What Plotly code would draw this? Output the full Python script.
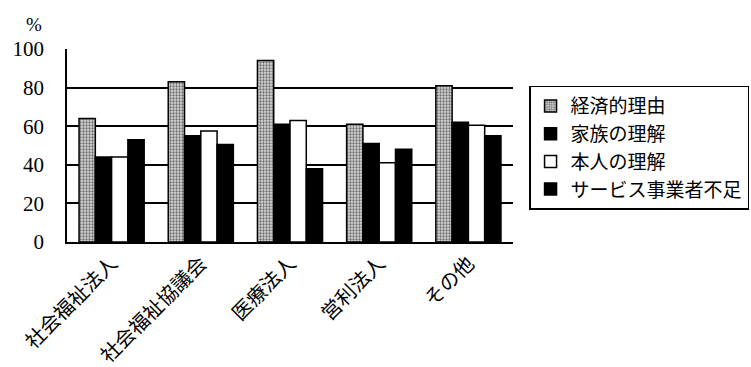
import plotly.graph_objects as go

categories = ["社会福祉法人", "社会福祉協議会", "医療法人", "営利法人", "その他"]
series_names = ["経済的理由", "家族の理解", "本人の理解", "サービス事業者不足"]
keizai = [64, 83, 94, 61, 81]
kazoku = [44, 55, 61, 51, 62]
honnin = [44, 57.5, 63, 41, 60.5]
service = [53, 50.5, 38, 48, 55]
y_ticks = [0, 20, 40, 60, 80, 100]

jp_font = "Noto Sans CJK JP"
num_font = "Liberation Serif"

fig = go.Figure()
styles = [
    dict(color="#d0d0d0", pattern=dict(shape=".", fgcolor="#000000", bgcolor="#d8d8d8", size=3, solidity=0.45)),
    dict(color="#000000"),
    dict(color="#ffffff"),
    dict(color="#000000"),
]
for name, vals, st in zip(series_names, [keizai, kazoku, honnin, service], styles):
    marker = dict(line=dict(color="black", width=1.5), **st)
    fig.add_trace(go.Bar(x=categories, y=vals, name=name, marker=marker))

# invisible trace on secondary axis for gridlines
fig.add_trace(go.Scatter(x=categories, y=[None]*5, yaxis="y2", showlegend=False, hoverinfo="skip"))

fig.update_layout(
    width=751, height=367,
    margin=dict(l=67, r=238, t=49, b=125, autoexpand=False),
    paper_bgcolor="white", plot_bgcolor="white",
    barmode="group", bargap=0.27, bargroupgap=0,
    font=dict(family=jp_font, color="black"),
    xaxis=dict(
        tickangle=-45, tickfont=dict(family=jp_font, size=20, color="black"),
        showline=True, linecolor="black", linewidth=2, ticks="", showgrid=False,
        automargin=False,
    ),
    yaxis=dict(
        range=[0, 100], tickvals=y_ticks, ticktext=[str(v) for v in y_ticks],
        tickfont=dict(family=num_font, size=21, color="black"),
        showline=True, linecolor="black", linewidth=1.5, showgrid=False,
        ticks="inside", ticklen=10, tickcolor="black", tickwidth=1.5,
        zeroline=False, ticklabelstandoff=17, automargin=False,
    ),
    yaxis2=dict(
        range=[0, 100], overlaying="y", tickvals=[20, 40, 60, 80], showticklabels=False,
        showgrid=True, gridcolor="black", gridwidth=1.5, zeroline=False, layer="below traces",
        automargin=False,
    ),
    legend=dict(
        x=1.036, y=0.81, xanchor="left", yanchor="top",
        bordercolor="black", borderwidth=1.5, bgcolor="white",
        font=dict(family=jp_font, size=19, color="black"),
        tracegroupgap=0, itemwidth=30,
    ),
    annotations=[dict(text="%", x=-0.075, y=1.0, xref="paper", yref="paper",
                      xanchor="center", yanchor="bottom", showarrow=False,
                      font=dict(family=num_font, size=19, color="black"), yshift=12)],
)

fig.write_html("out.html")
